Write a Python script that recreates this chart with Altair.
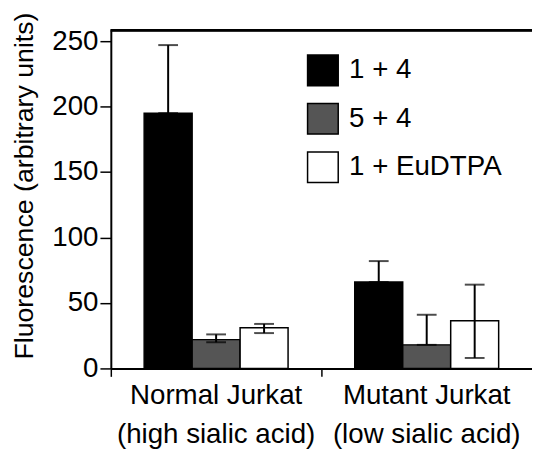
import altair as alt
import pandas as pd

groups = ["Normal Jurkat|(high sialic acid)", "Mutant Jurkat|(low sialic acid)"]
series = ["1 + 4", "5 + 4", "1 + EuDTPA"]
values = {
    "1 + 4": [195, 66],
    "5 + 4": [22, 18],
    "1 + EuDTPA": [31, 36.5],
}
err_lo = {
    "1 + 4": [195, 66],
    "5 + 4": [20, 18],
    "1 + EuDTPA": [27, 8],
}
err_hi = {
    "1 + 4": [247, 82],
    "5 + 4": [26, 41],
    "1 + EuDTPA": [34, 64],
}
colors = ["#000000", "#555555", "#ffffff"]
y_ticks = [0, 50, 100, 150, 200, 250]

rows = []
for s in series:
    for i, g in enumerate(groups):
        rows.append({"group": g, "series": s, "value": values[s][i],
                     "lo": err_lo[s][i], "hi": err_hi[s][i]})
df = pd.DataFrame(rows)

FONT = "Liberation Sans"
W, H = 426, 342

x_enc = alt.X("group:N", sort=groups,
              scale=alt.Scale(paddingInner=0, paddingOuter=0),
              axis=alt.Axis(title=None, labelExpr="split(datum.label, '|')",
                            labelAngle=0, labelFontSize=28, labelFont=FONT,
                            labelColor="black", labelLineHeight=40,
                            labelLimit=400, labelPadding=5,
                            tickSize=8, tickColor="black",
                            tickWidth=1.5, domainColor="black", domainWidth=2,
                            bandPosition=0, grid=False))
xoff = alt.XOffset("series:N", sort=series,
                   scale=alt.Scale(paddingInner=0, paddingOuter=0.695))
y_scale = alt.Scale(domain=[0, 258.3], nice=False, zero=True)

bars = alt.Chart(df).mark_bar(stroke="black", strokeWidth=1.5).encode(
    x=x_enc,
    xOffset=xoff,
    y=alt.Y("value:Q", scale=y_scale,
            axis=alt.Axis(title="Fluorescence (arbitrary units)", values=y_ticks,
                          titleFontSize=27, titleFont=FONT, titleFontWeight="normal",
                          titleColor="black", titleX=-73, titleY=157,
                          titleBaseline="bottom", titleAngle=270,
                          labelFontSize=28, labelFont=FONT, labelColor="black",
                          labelPadding=2, tickSize=11, tickColor="black",
                          tickWidth=1.5, domainColor="black", domainWidth=2,
                          grid=False)),
    fill=alt.Fill("series:N", sort=series,
                  scale=alt.Scale(domain=series, range=colors),
                  legend=alt.Legend(title=None, orient="none", legendX=198, legendY=24,
                                    symbolType="square", symbolSize=961,
                                    symbolStrokeColor="black", symbolStrokeWidth=1.5,
                                    labelFontSize=28, labelFont=FONT,
                                    labelColor="black", labelOffset=10,
                                    rowPadding=12)),
)

rules = alt.Chart(df).mark_rule(color="black", strokeWidth=2).encode(
    x=alt.X("group:N", sort=groups), xOffset=xoff,
    y=alt.Y("lo:Q", scale=y_scale), y2="hi:Q",
)
caps_hi = alt.Chart(df).mark_tick(color="black", thickness=2, size=20).encode(
    x=alt.X("group:N", sort=groups), xOffset=xoff,
    y=alt.Y("hi:Q", scale=y_scale),
)
caps_lo = alt.Chart(df).mark_tick(color="black", thickness=2, size=20).encode(
    x=alt.X("group:N", sort=groups), xOffset=xoff,
    y=alt.Y("lo:Q", scale=y_scale),
)
top_line = alt.Chart(df).mark_rule(color="black", strokeWidth=2).encode(
    x=alt.value(0), x2=alt.value(W), y=alt.value(0),
)

chart = alt.layer(bars, rules, caps_hi, caps_lo, top_line).properties(
    width=W, height=H,
    autosize=alt.AutoSizeParams(type="none"),
    padding={"left": 104, "top": 20, "right": 0, "bottom": 85},
).configure_view(stroke=None).configure_scale(bandPaddingInner=0)

chart.save("out.html", embed_options={"renderer": "svg", "actions": False})
